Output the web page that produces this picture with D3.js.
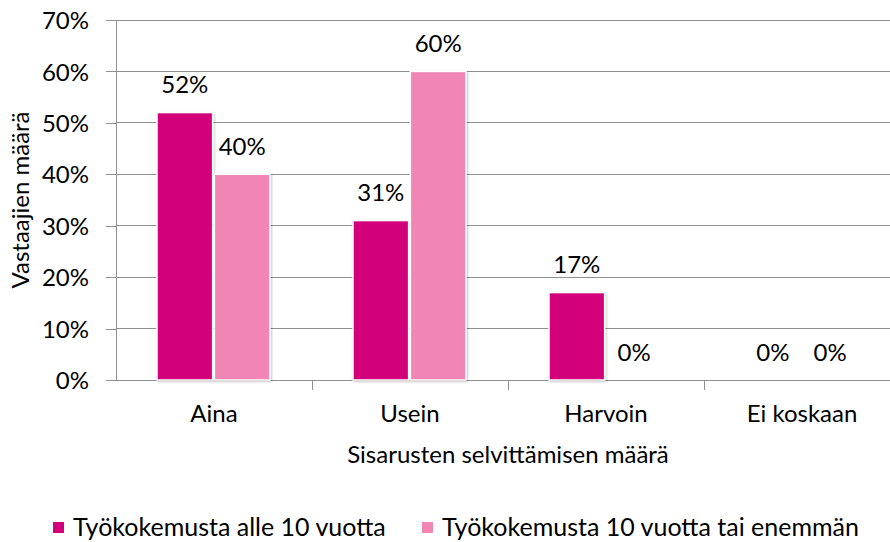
<!DOCTYPE html>
<html><head><meta charset="utf-8">
<script src="https://cdn.jsdelivr.net/npm/d3@7"></script>
<style>body{margin:0;background:#fff}svg{display:block}text{font-family:Lato,"Open Sans",sans-serif;fill:#000}</style>
</head><body><svg id="c" width="890" height="542"></svg>
<script>
const categories = ["Aina","Usein","Harvoin","Ei koskaan"];
const seriesNames = ["Työkokemusta alle 10 vuotta","Työkokemusta 10 vuotta tai enemmän"];
const seriesA = [52,31,17,0];
const seriesB = [40,60,0,0];
const yTicks = [0,10,20,30,40,50,60,70];
const colors = ["#D2007A","#F185B4"];

(function(){
const svg = d3.select("#c");
const FS = 24;
const pl=116, pr=900, pt=20, pb=380;
const x = d3.scaleBand().domain(categories).range([pl,pr]).paddingInner(0).paddingOuter(0);
const y = d3.scaleLinear().domain([0,70]).range([pb,pt]);
const inner = d3.scaleBand().domain([0,1]).range([41,154]).paddingInner(0.03);

const defs = svg.append("defs");
const f = defs.append("filter").attr("id","sh").attr("x","-20%").attr("y","-20%").attr("width","140%").attr("height","140%");
f.append("feDropShadow").attr("dx",1).attr("dy",1).attr("stdDeviation",1.2).attr("flood-color","#000").attr("flood-opacity",0.25);

svg.append("g").selectAll("line").data(yTicks).join("line")
  .attr("x1",pl).attr("x2",pr).attr("y1",d=>y(d)).attr("y2",d=>y(d))
  .attr("stroke","#8f8f8f").attr("stroke-width",1).attr("shape-rendering","crispEdges");

const ya = svg.append("g").attr("transform",`translate(${pl},0)`)
  .call(d3.axisLeft(y).tickValues(yTicks).tickFormat(d=>d+"%").tickSize(10).tickPadding(17));
ya.select(".domain").attr("stroke","#8f8f8f").attr("shape-rendering","crispEdges");
ya.selectAll(".tick line").attr("stroke","#8f8f8f").attr("shape-rendering","crispEdges");
ya.selectAll(".tick text").attr("font-size",FS).attr("font-family","Lato").attr("dy","0.36em");

const xa = svg.append("g").attr("transform",`translate(0,${pb})`)
  .call(d3.axisBottom(x).tickSize(0).tickPadding(0));
xa.select(".domain").attr("stroke","#8f8f8f").attr("shape-rendering","crispEdges");
xa.selectAll(".tick text").attr("font-size",FS).attr("font-family","Lato").attr("y",42).attr("dy",0);
svg.append("g").selectAll("line").data(categories.slice(1)).join("line")
  .attr("x1",d=>x(d)).attr("x2",d=>x(d)).attr("y1",pb).attr("y2",pb+10)
  .attr("stroke","#8f8f8f").attr("shape-rendering","crispEdges");

const series=[seriesA,seriesB];
series.forEach((vals,si)=>{
  const g = svg.append("g");
  g.selectAll("rect").data(vals).join("rect")
    .attr("x",(d,i)=>x(categories[i])+inner(si))
    .attr("width",inner.bandwidth())
    .attr("y",d=>y(d)).attr("height",d=>y(0)-y(d))
    .attr("fill",colors[si]).attr("stroke","#fff").attr("stroke-width",1.5)
    .attr("filter","url(#sh)")
    .style("display",d=>d>0?null:"none");
  g.selectAll("text").data(vals).join("text")
    .attr("x",(d,i)=>x(categories[i])+inner(si)+inner.bandwidth()/2)
    .attr("y",d=>y(d)-19.5)
    .attr("text-anchor","middle").attr("font-size",FS)
    .text(d=>d+"%");
});

svg.append("text").attr("x",508).attr("y",463).attr("text-anchor","middle").attr("font-size",FS).text("Sisarusten selvittämisen määrä");
svg.append("text").attr("transform","translate(29,200) rotate(-90)").attr("text-anchor","middle").attr("font-size",FS).text("Vastaajien määrä");

const lx=[53,422];
seriesNames.forEach((n,i)=>{
  svg.append("rect").attr("x",lx[i]).attr("y",522).attr("width",11).attr("height",11).attr("fill",colors[i]);
  svg.append("text").attr("x",lx[i]+20).attr("y",536).attr("font-size",25).text(n);
});
})();
</script></body></html>
